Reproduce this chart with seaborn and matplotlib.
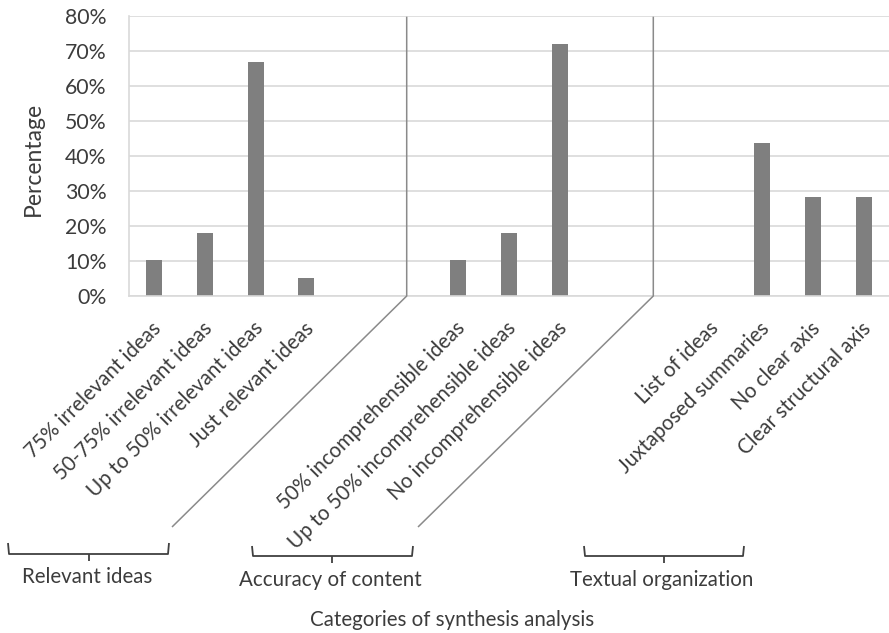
import matplotlib
matplotlib.use('Agg')
import matplotlib.pyplot as plt
import matplotlib.transforms as mtransforms
from matplotlib.lines import Line2D
from matplotlib.ticker import FuncFormatter
import pandas as pd
import seaborn as sns

### Data ###
relevant_labels = ['75% irrelevant ideas', '50-75% irrelevant ideas',
                   'Up to 50% irrelevant ideas', 'Just relevant ideas']
relevant_values = [10.3, 17.9, 66.7, 5.1]

accuracy_labels = ['50% incomprehensible ideas', 'Up to 50% incomprehensible ideas',
                   'No incomprehensible ideas']
accuracy_values = [10.3, 17.9, 71.8]

textual_labels = ['List of ideas', 'Juxtaposed summaries', 'No clear axis',
                  'Clear structural axis']
textual_values = [0.0, 43.6, 28.2, 28.2]

group_names = ['Relevant ideas', 'Accuracy of content', 'Textual organization']
y_ticks = [0, 10, 20, 30, 40, 50, 60, 70, 80]

### Build slots (two empty slots between groups) ###
groups = [(relevant_labels, relevant_values),
          (accuracy_labels, accuracy_values),
          (textual_labels, textual_values)]
order, tick_text, rows = [], [], []
for g, (labels, values) in enumerate(groups):
    if g > 0:
        for k in range(2):
            order.append('gap%d%d' % (g, k))
            tick_text.append('')
    for lab, val in zip(labels, values):
        order.append(lab)
        tick_text.append(lab)
        rows.append({'category': lab, 'value': val, 'group': group_names[g]})
df = pd.DataFrame(rows)

### Plot ###
W, H = 889, 633
TEXT = '#3c3c3c'
plt.rcParams['font.family'] = ['Lato', 'DejaVu Sans']

fig = plt.figure(figsize=(W / 100, H / 100), dpi=100)
ax = fig.add_axes([129 / W, 1 - 296 / H, 760 / W, (296 - 15.7) / H])

sns.barplot(data=df, x='category', y='value', order=order, color='#7f7f7f',
            saturation=1, width=0.31, ax=ax)

ax.set_xlim(-0.5, len(order) - 0.5)
ax.set_ylim(0, 80)
ax.set_yticks(y_ticks)
ax.yaxis.set_major_formatter(FuncFormatter(lambda v, p: '%d%%' % v))
ax.grid(axis='y', color='#d9d9d9', linewidth=1.2)
ax.set_axisbelow(True)
for side in ['top', 'right']:
    ax.spines[side].set_visible(False)
for side in ['left', 'bottom']:
    ax.spines[side].set_color('#d9d9d9')
    ax.spines[side].set_linewidth(1.2)
ax.tick_params(axis='both', length=0, colors=TEXT)
ax.tick_params(axis='y', labelsize=15.3, pad=16)

ax.set_xticks(range(len(order)))
ax.set_xticklabels(tick_text, rotation=45, ha='right', va='top',
                   rotation_mode='anchor', fontsize=14.8, color=TEXT)
ax.tick_params(axis='x', pad=16)
offset = mtransforms.ScaledTranslation(-3 / 100, 0, fig.dpi_scale_trans)
for lbl in ax.get_xticklabels():
    lbl.set_transform(lbl.get_transform() + offset)

ax.set_xlabel('')
ax.set_ylabel('Percentage', fontsize=16.5, color=TEXT)
ax.yaxis.set_label_coords(-0.112, 0.49)


def px(x, y):
    return x / W, 1 - y / H


def fig_line(xs, ys, color, lw):
    pts = [px(x, y) for x, y in zip(xs, ys)]
    fig.add_artist(Line2D([p[0] for p in pts], [p[1] for p in pts],
                          transform=fig.transFigure, color=color,
                          linewidth=lw, solid_capstyle='butt'))


# group dividers
fig_line([406.7, 406.7, 172], [16.7, 296, 527], '#8a8a8a', 1.1)
fig_line([653.3, 653.3, 418], [16.7, 296, 527], '#8a8a8a', 1.1)

# group brackets and names
brackets = [(8, 169, 543, 554, 89, 577),
            (252, 413, 546, 556, 332, 580),
            (584, 744, 546, 556, 664, 580)]
for name, (x0, x1, yt, yh, xc, yl) in zip(group_names, brackets):
    fig_line([x0, x0 + 1, x1 - 1, x1], [yt, yh, yh, yt], '#404040', 1.3)
    fig_line([xc, xc], [yh, yh + 7], '#404040', 1.3)
    fig.text(*px(xc - 2, yl), name, ha='center', va='center',
             fontsize=14.8, color=TEXT)

fig.text(*px(452, 620), 'Categories of synthesis analysis', ha='center',
         va='center', fontsize=14.8, color=TEXT)

fig.savefig('out.png', dpi=100, facecolor='white')
